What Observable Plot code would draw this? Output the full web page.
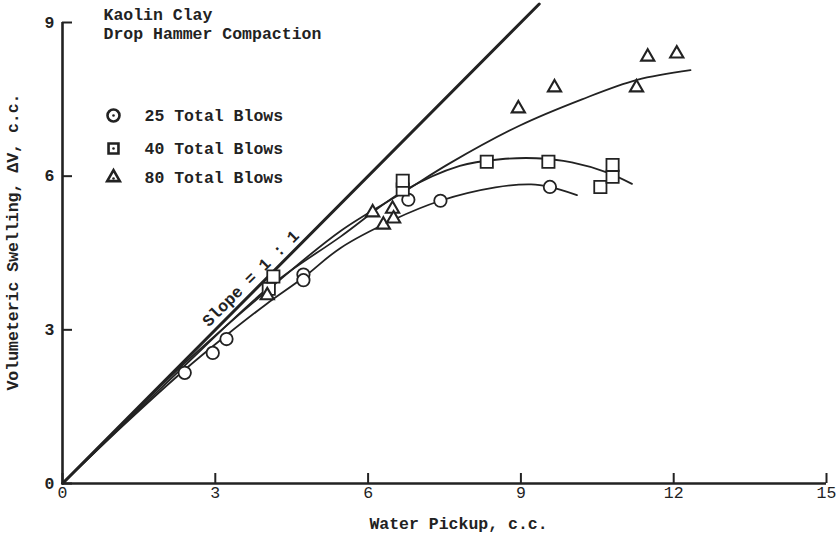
<!DOCTYPE html>
<html>
<head>
<meta charset="utf-8">
<script src="https://cdn.jsdelivr.net/npm/d3@7"></script>
<script src="https://cdn.jsdelivr.net/npm/@observablehq/plot@0.6"></script>
<style>
  html, body { margin: 0; padding: 0; background: #fff; }
  #chart svg { display: block; }
</style>
</head>
<body>
<div id="chart"></div>
<script>
// ---- tick labels ----
const xTicks = [0, 3, 6, 9, 12, 15];
const yTicks = [0, 3, 6, 9];

// ---- measured points (Water Pickup, Volumetric Swelling) ----
const blows25X = [2.40, 2.95, 3.22, 4.73, 4.73, 6.79, 7.42, 9.57];
const blows25Y = [2.16, 2.55, 2.82, 4.08, 3.97, 5.54, 5.52, 5.79];

const blows40X = [4.05, 4.14, 6.68, 6.68, 8.33, 9.54, 10.56, 10.80, 10.80];
const blows40Y = [3.80, 4.04, 5.74, 5.91, 6.28, 6.28, 5.79, 5.99, 6.22];

const blows80X = [4.02, 6.09, 6.30, 6.48, 6.50, 8.95, 9.66, 11.27, 11.49, 12.06];
const blows80Y = [3.67, 5.29, 5.05, 5.36, 5.17, 7.32, 7.73, 7.73, 8.33, 8.39];

// ---- fitted curves ----
const curve25X = [0, 1.2, 2.4, 3.2, 4.0, 4.73, 5.46, 6.5, 7.42, 8.5, 9.2, 9.57, 10.1];
const curve25Y = [0, 1.14, 2.22, 2.88, 3.5, 4.02, 4.6, 5.15, 5.52, 5.78, 5.84, 5.79, 5.63];

const curve40X = [0, 2.4, 4.1, 5.46, 6.68, 7.8, 8.6, 9.3, 10.0, 10.7, 11.18];
const curve40Y = [0, 2.3, 3.87, 4.82, 5.7, 6.2, 6.33, 6.35, 6.27, 6.07, 5.85];

const curve80X = [0, 2.4, 4.0, 5.46, 6.68, 7.6, 8.96, 10.2, 11.28, 12.33];
const curve80Y = [0, 2.35, 3.75, 4.93, 5.68, 6.25, 6.98, 7.5, 7.88, 8.07];

const slopeX = [0, 9.36];
const slopeY = [0, 9.36];

// ---- texts ----
const titleText = "Kaolin Clay\nDrop Hammer Compaction";
const legendLabels = ["25 Total Blows", "40 Total Blows", "80 Total Blows"];
const slopeLabel = "Slope = 1 : 1";
const slopeLabelAt = 3.85;
const xLabel = "Water Pickup, c.c.";
const yLabel = "Volumeteric Swelling, \u0394V, c.c.";

const zip = (xs, ys) => xs.map((x, i) => ({x, y: ys[i]}));
const pts25 = zip(blows25X, blows25Y);
const pts40 = zip(blows40X, blows40Y);
const pts80 = zip(blows80X, blows80Y);
const c25 = zip(curve25X, curve25Y);
const c40 = zip(curve40X, curve40Y);
const c80 = zip(curve80X, curve80Y);
const slope = zip(slopeX, slopeY);

const INK = "#222";
const FONT = "'Liberation Mono', 'DejaVu Sans Mono', monospace";
const FS = 16.5;

const W = 838, H = 541, ML = 62, MR = 12, MT = 22, MB = 58;
const frameW = W - ML - MR, frameH = H - MT - MB;

const legendDy = [93, 126, 155];
const legendSym = ["circle", "square", "triangle"];
const legendR = [6, 5.6, 4.7];

const chart = Plot.plot({
  width: W, height: H,
  marginLeft: ML, marginRight: MR, marginTop: MT, marginBottom: MB,
  style: {background: "#fff", color: INK, fontFamily: FONT},
  x: {domain: [0, 15]},
  y: {domain: [0, 9]},
  marks: [
    // axes
    Plot.axisX(xTicks, {tickSize: 0, tickPadding: 3, tickFormat: d => String(d), fontSize: FS, fontFamily: FONT, fill: INK, label: null}),
    Plot.axisY(yTicks, {tickSize: 0, tickPadding: 8, tickFormat: d => String(d), fontSize: FS, fontFamily: FONT, fontWeight: "bold", fill: INK, label: null}),
    Plot.tickX(xTicks, {x: d => d, insetTop: frameH - 10, stroke: INK, strokeWidth: 2}),
    Plot.tickY(yTicks, {y: d => d, insetRight: frameW - 10, stroke: INK, strokeWidth: 2}),
    Plot.ruleX([0], {stroke: INK, strokeWidth: 2.6}),
    Plot.ruleY([0], {stroke: INK, strokeWidth: 2.6}),

    // 1:1 line
    Plot.line(slope, {x: "x", y: "y", stroke: INK, strokeWidth: 3}),
    Plot.text([slopeLabel], {x: () => slopeLabelAt, y: () => slopeLabelAt, text: d => d,
      rotate: -44.8, dx: -8, dy: -8, fontSize: FS, fontFamily: FONT, fontWeight: "bold", fill: INK}),

    // fitted curves
    Plot.line(c25, {x: "x", y: "y", curve: "catmull-rom", stroke: INK, strokeWidth: 1.8}),
    Plot.line(c40, {x: "x", y: "y", curve: "catmull-rom", stroke: INK, strokeWidth: 1.8}),
    Plot.line(c80, {x: "x", y: "y", curve: "catmull-rom", stroke: INK, strokeWidth: 1.8}),

    // data markers
    Plot.dot(pts25, {x: "x", y: "y", symbol: "circle", r: 6.2, stroke: INK, fill: "#fff", strokeWidth: 1.8}),
    Plot.dot(pts40, {x: "x", y: "y", symbol: "square", r: 6.9, stroke: INK, fill: "#fff", strokeWidth: 1.8}),
    Plot.dot(pts80, {x: "x", y: "y", symbol: "triangle", r: 4.9, stroke: INK, fill: "#fff", strokeWidth: 2.1}),

    // title
    Plot.text([titleText], {text: d => d, frameAnchor: "top-left", dx: 41, dy: -15, lineAnchor: "top",
      textAnchor: "start", lineHeight: 1.1, fontSize: FS, fontFamily: FONT, fontWeight: "bold", fill: INK}),

    // legend
    ...legendLabels.flatMap((lab, i) => [
      Plot.dot([lab], {frameAnchor: "top-left", dx: 51, dy: legendDy[i], symbol: legendSym[i], r: legendR[i],
        stroke: INK, fill: "#fff", strokeWidth: 2.6}),
      Plot.dot([lab], {frameAnchor: "top-left", dx: 51, dy: legendDy[i] + (i === 2 ? 1 : 0), r: 1.3, fill: INK, stroke: null}),
      Plot.text([lab], {text: d => d, frameAnchor: "top-left", dx: 82, dy: legendDy[i], textAnchor: "start",
        lineAnchor: "middle", fontSize: FS, fontFamily: FONT, fontWeight: "bold", fill: INK})
    ]),

    // axis titles
    Plot.text([xLabel], {text: d => d, frameAnchor: "bottom", dx: 14, dy: 40, lineAnchor: "middle",
      fontSize: FS, fontFamily: FONT, fontWeight: "bold", fill: INK}),
    Plot.text([yLabel], {text: d => d, frameAnchor: "left", dx: -50, dy: -11, rotate: -90,
      textAnchor: "middle", lineAnchor: "middle",
      fontSize: FS, fontFamily: FONT, fontWeight: "bold", fill: INK})
  ]
});

document.getElementById("chart").appendChild(chart);
</script>
</body>
</html>
